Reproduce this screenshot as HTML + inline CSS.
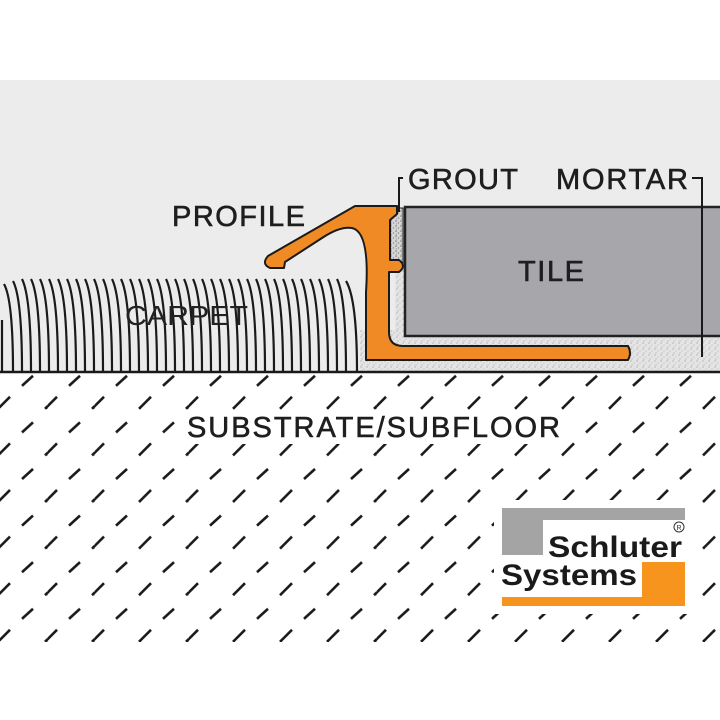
<!DOCTYPE html>
<html><head><meta charset="utf-8"><style>html,body{margin:0;padding:0;background:#fff}svg{display:block}</style></head>
<body>
<svg width="720" height="720" viewBox="0 0 720 720" xmlns="http://www.w3.org/2000/svg" font-family="Liberation Sans, sans-serif">
<defs>
<pattern id="hatch" x="0" y="0" width="47" height="46.6" patternUnits="userSpaceOnUse">
<line x1="22" y1="13" x2="33" y2="3" stroke="#1a1a1a" stroke-width="2.6"/>
<line x1="45" y1="36" x2="57" y2="24" stroke="#1a1a1a" stroke-width="2.6"/>
<line x1="-2" y1="36" x2="10" y2="24" stroke="#1a1a1a" stroke-width="2.6"/>
</pattern>
<pattern id="stip" width="6" height="6" patternUnits="userSpaceOnUse">
<rect width="6" height="6" fill="#e4e4e4"/>
<circle cx="1" cy="1" r="0.6" fill="#9a9a9a"/><circle cx="4" cy="3" r="0.5" fill="#aaa"/><circle cx="2" cy="5" r="0.5" fill="#888"/>
</pattern>
<pattern id="stip2" width="5" height="5" patternUnits="userSpaceOnUse">
<rect width="5" height="5" fill="#d6d6d6"/>
<circle cx="1" cy="1" r="0.8" fill="#777"/><circle cx="3.5" cy="3" r="0.7" fill="#888"/><circle cx="1.5" cy="4" r="0.6" fill="#999"/>
</pattern>
</defs>
<rect x="0" y="80" width="720" height="292" fill="#ececec"/>
<rect x="0" y="374" width="720" height="268" fill="url(#hatch)"/>
<rect x="182" y="410" width="384" height="34" fill="#fff"/>
<rect x="360" y="330" width="360" height="42" fill="url(#stip)"/>
<rect x="395" y="260" width="12" height="76" fill="url(#stip)"/>
<rect x="387" y="208" width="16" height="55" fill="url(#stip2)" stroke="#222" stroke-width="1"/>
<rect x="405" y="207" width="320" height="129" fill="#a7a6ab" stroke="#222" stroke-width="2.5"/>
<g stroke="#1a1a1a" stroke-width="2.2" fill="none">
<path d="M2,320 L2,372"/>
<path d="M4,284 Q13,300 13,372"/><path d="M13,281 Q22,298 22,372"/><path d="M22,279 Q31,297 31,372"/><path d="M31,279 Q40,297 40,372"/>
<path d="M40,279 Q49,297 49,372"/><path d="M49,279 Q58,297 58,372"/><path d="M58,279 Q67,297 67,372"/><path d="M67,279 Q76,297 76,372"/>
<path d="M76,279 Q85,297 85,372"/><path d="M85,279 Q94,297 94,372"/><path d="M94,279 Q103,297 103,372"/><path d="M103,279 Q112,297 112,372"/>
<path d="M112,279 Q121,297 121,372"/><path d="M121,279 Q130,297 130,372"/><path d="M130,279 Q139,297 139,372"/><path d="M139,279 Q148,297 148,372"/>
<path d="M148,279 Q157,297 157,372"/><path d="M157,279 Q166,297 166,372"/><path d="M166,279 Q175,297 175,372"/><path d="M175,279 Q184,297 184,372"/>
<path d="M184,279 Q193,297 193,372"/><path d="M193,279 Q202,297 202,372"/><path d="M202,279 Q211,297 211,372"/><path d="M211,279 Q220,297 220,372"/>
<path d="M220,279 Q229,297 229,372"/><path d="M229,279 Q238,297 238,372"/><path d="M238,279 Q247,297 247,372"/><path d="M247,279 Q256,297 256,372"/>
<path d="M256,279 Q265,297 265,372"/><path d="M265,279 Q274,297 274,372"/><path d="M274,279 Q283,297 283,372"/><path d="M283,279 Q292,297 292,372"/>
<path d="M292,279 Q301,297 301,372"/><path d="M301,279 Q310,297 310,372"/><path d="M310,279 Q319,297 319,372"/><path d="M319,279 Q328,297 328,372"/>
<path d="M328,279 Q337,297 337,372"/><path d="M337,279 Q346,297 346,372"/><path d="M346,281 Q357,299 357,372"/>
</g>
<text x="125" y="325" font-size="28" fill="#222" textLength="123" lengthAdjust="spacingAndGlyphs">CARPET</text>
<path d="M270,268 Q261,264 268,256 L355,206 L397,206 L397,214 L390,220 L390,260 L399,260 Q407,266 399,272 L389,272 L389,332 Q389,346 403,346 L628,346 Q632,353 628,360 L366,360 L366,292 Q370,232 352,228 Q340,226 322,238 L285,262 L284,268 Z" fill="#f08a24" stroke="#1a1a1a" stroke-width="2" stroke-linejoin="round"/>
<line x1="0" y1="372" x2="720" y2="372" stroke="#1a1a1a" stroke-width="2.5"/>
<path d="M403,178 L399,178 L399,212" stroke="#1a1a1a" stroke-width="2" fill="none"/>
<path d="M692,178 L702,178 L702,357" stroke="#1a1a1a" stroke-width="2" fill="none"/>
<g fill="#1e1e1e" font-size="29" stroke="#1e1e1e" stroke-width="0.6">
<text x="172" y="226" textLength="133" lengthAdjust="spacing">PROFILE</text>
<text x="408" y="189" textLength="110" lengthAdjust="spacing">GROUT</text>
<text x="556" y="189" textLength="132" lengthAdjust="spacing">MORTAR</text>
<text x="518" y="281" textLength="66" lengthAdjust="spacing">TILE</text>
<text x="187" y="437" textLength="373" lengthAdjust="spacing">SUBSTRATE/SUBFLOOR</text>
</g>
<rect x="494" y="500" width="198" height="114" fill="#fff"/>
<path d="M502,508 L685,508 L685,520 L543,520 L543,555 L502,555 Z" fill="#a4a4a4"/>
<path d="M642,562 L685,562 L685,606 L502,606 L502,597 L642,597 Z" fill="#f7941d"/>
<text x="548" y="557" font-size="30" font-weight="bold" fill="#1a1a1a" textLength="134" lengthAdjust="spacingAndGlyphs">Schluter</text>
<text x="501" y="585" font-size="30" font-weight="bold" fill="#1a1a1a" textLength="136" lengthAdjust="spacingAndGlyphs">Systems</text>
<circle cx="679" cy="527" r="5" fill="none" stroke="#333" stroke-width="1"/>
<text x="679" y="530" font-size="7" text-anchor="middle" fill="#333">R</text>
</svg>
</body></html>
